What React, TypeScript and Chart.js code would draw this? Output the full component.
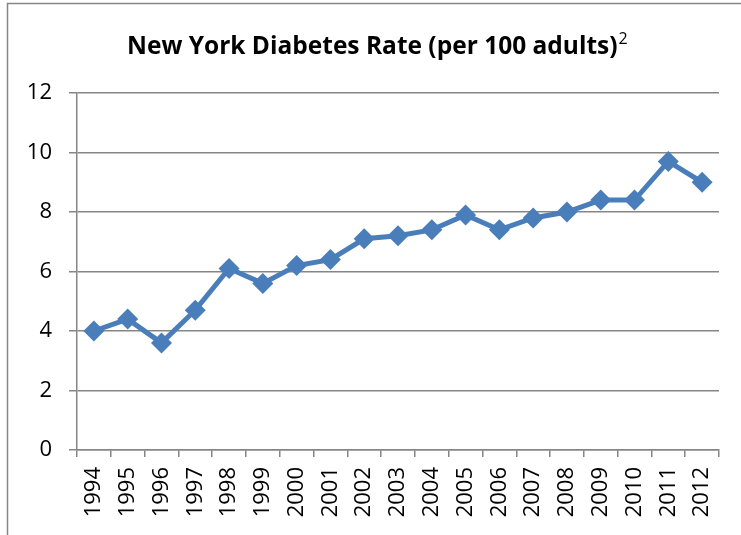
import React, { useEffect, useRef } from "react";
import { Chart, registerables } from "chart.js";

Chart.register(...registerables);

const years = ["1994","1995","1996","1997","1998","1999","2000","2001","2002","2003","2004","2005","2006","2007","2008","2009","2010","2011","2012"];
const rates = [4.0, 4.4, 3.6, 4.7, 6.1, 5.6, 6.2, 6.4, 7.1, 7.2, 7.4, 7.9, 7.4, 7.8, 8.0, 8.4, 8.4, 9.7, 9.0];
const titleText = "New York Diabetes Rate (per 100 adults)";
const titleSup = "2";

const FONT = "'Open Sans', Lato, sans-serif";

const framePlugin = {
  id: "frameAndTitle",
  beforeDraw(chart: any) {
    const ctx = chart.ctx;
    ctx.save();
    ctx.fillStyle = "#ffffff";
    ctx.fillRect(0, 0, chart.width, chart.height);
    ctx.strokeStyle = "#868686";
    ctx.lineWidth = 1.5;
    ctx.beginPath();
    ctx.moveTo(7.5, chart.height + 5);
    ctx.lineTo(7.5, 3.5);
    ctx.lineTo(chart.width + 5, 3.5);
    ctx.stroke();
    ctx.restore();
  },
  afterDraw(chart: any) {
    const ctx = chart.ctx;
    ctx.save();
    ctx.fillStyle = "#000000";
    ctx.textBaseline = "alphabetic";
    ctx.font = "bold 24.5px " + FONT;
    const w1 = ctx.measureText(titleText).width;
    const x0 = 127;
    const y0 = 54;
    ctx.textAlign = "left";
    ctx.fillText(titleText, x0, y0);
    ctx.font = "16px " + FONT;
    ctx.fillText(titleSup, x0 + w1 + 1, y0 - 10);
    ctx.restore();
  },
};

export default function App() {
  const ref = useRef<HTMLCanvasElement | null>(null);
  useEffect(() => {
    if (!ref.current) return;
    const chart = new Chart(ref.current, {
      type: "line",
      data: {
        labels: years,
        datasets: [
          {
            data: rates,
            borderColor: "#4a7ebb",
            backgroundColor: "#4a7ebb",
            borderWidth: 5,
            pointStyle: "rectRot",
            pointRadius: 10.5,
            pointHoverRadius: 10.5,
            pointBackgroundColor: "#4a7ebb",
            pointBorderColor: "#4a7ebb",
            pointBorderWidth: 0,
            tension: 0,
          },
        ],
      },
      options: {
        animation: false,
        responsive: false,
        events: [],
        layout: { padding: { top: 93, left: 0, right: 22, bottom: 0 } },
        plugins: {
          legend: { display: false },
          title: { display: false },
          tooltip: { enabled: false },
        },
        scales: {
          x: {
            offset: true,
            afterFit: (s: any) => { s.height = 85; },
            grid: {
              display: true,
              offset: true,
              drawOnChartArea: false,
              drawTicks: true,
              tickLength: 7,
              color: "#868686",
              lineWidth: 1.5,
            },
            border: { display: true, color: "#868686", width: 1.5 },
            ticks: {
              minRotation: 90,
              maxRotation: 90,
              autoSkip: false,
              padding: 10,
              color: "#000000",
              font: { family: FONT, size: 22 },
            },
          },
          y: {
            min: 0,
            max: 12,
            afterFit: (s: any) => { s.width = 77; },
            grid: {
              color: "#868686",
              lineWidth: 1.5,
              drawTicks: true,
              tickLength: 8,
            },
            border: { display: true, color: "#868686", width: 1.5 },
            ticks: {
              stepSize: 2,
              padding: 17,
              color: "#000000",
              font: { family: FONT, size: 22 },
            },
          },
        },
      },
      plugins: [framePlugin],
    });
    return () => chart.destroy();
  }, []);
  return (
    <div style={{ position: "fixed", left: 0, top: 0, width: 741, height: 535, background: "#fff" }}>
      <canvas ref={ref} width={741} height={535} style={{ display: "block" }} />
    </div>
  );
}
